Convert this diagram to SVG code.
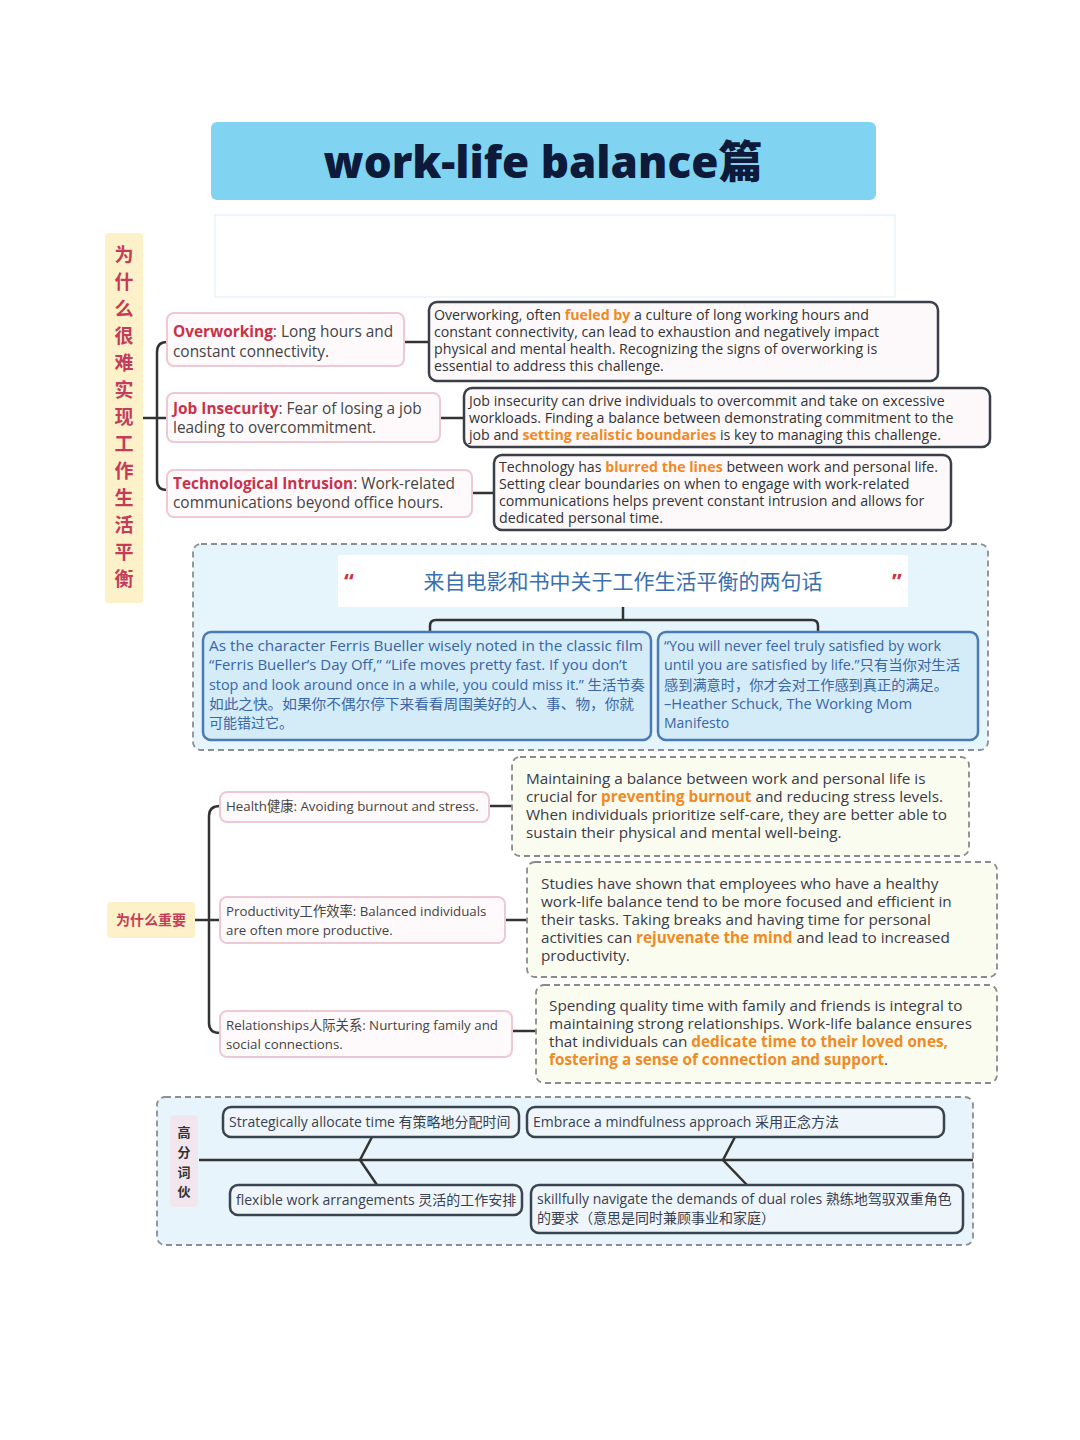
<svg xmlns="http://www.w3.org/2000/svg" width="1080" height="1440" viewBox="0 0 1080 1440">
<defs>
<style>
text{font-family:"Open Sans","Noto Sans","Noto Sans CJK SC",sans-serif;}
.title{font-size:44px;font-weight:800;fill:#0d1a3a;}
.vlab{font-size:19px;font-weight:700;fill:#c43c5a;font-family:"Noto Sans CJK SC",sans-serif;}
.node{fill:#fefafb;stroke:#ecc9d3;stroke-width:2;}
.nt{font-size:15.4px;fill:#444;}
.red{fill:#c8324a;font-weight:700;}
.det{fill:#fdf9fb;stroke:#3b3f4a;stroke-width:2.5;}
.dt{font-size:14.2px;fill:#333;}
.hl{fill:#f08a24;font-weight:700;}
.conn{fill:none;stroke:#333;stroke-width:2.5;}
.qbox{fill:#d4ebf8;stroke:#4a7ab5;stroke-width:2.5;}
.qt{font-size:14px;fill:#3a66a6;}
.ydet{fill:#fbfcf0;stroke:#8a8a8a;stroke-width:1.8;stroke-dasharray:6 4;}
.yt{font-size:15.3px;fill:#3a3a48;}
.n3t{font-size:13.3px;fill:#444;}
.bbox{fill:#eef6fb;stroke:#3a4450;stroke-width:2.5;}
.bt{font-size:14px;fill:#3a4050;}
</style>
</defs>
<rect width="1080" height="1440" fill="#ffffff"/>

<g id="title">
<rect x="211" y="122" width="665" height="78" rx="6" fill="#80d4f2"/>
<text class="title" x="543" y="178" text-anchor="middle">work-life balance篇</text>
</g>
<rect x="215" y="215" width="680" height="82" fill="#ffffff" stroke="#e6f3fa" stroke-width="1.5"/>

<g id="label-why-hard">
<rect x="105" y="233" width="38" height="370" rx="3" fill="#fcf1c8"/>
<text class="vlab" text-anchor="middle">
<tspan x="124" y="262">为</tspan><tspan x="124" y="289">什</tspan><tspan x="124" y="316">么</tspan><tspan x="124" y="343">很</tspan><tspan x="124" y="370">难</tspan><tspan x="124" y="397">实</tspan><tspan x="124" y="424">现</tspan><tspan x="124" y="451">工</tspan><tspan x="124" y="478">作</tspan><tspan x="124" y="505">生</tspan><tspan x="124" y="532">活</tspan><tspan x="124" y="559">平</tspan><tspan x="124" y="586">衡</tspan>
</text>
</g>

<g id="quotes-section">
<rect x="193" y="544" width="795" height="206" rx="8" fill="#e6f4fc" stroke="#8a8f96" stroke-width="1.8" stroke-dasharray="6 4"/>
<rect x="338" y="555" width="570" height="52" fill="#ffffff"/>
<text x="349" y="589" font-size="22" font-weight="700" fill="#d0323f" text-anchor="middle">“</text>
<text x="897" y="589" font-size="22" font-weight="700" fill="#d0323f" text-anchor="middle">”</text>
<text x="623" y="589" font-size="21" fill="#3a6fb0" text-anchor="middle" style="font-family:'Noto Sans CJK SC',sans-serif;">来自电影和书中关于工作生活平衡的两句话</text>
</g>

<g id="collocations-section">
<rect x="157" y="1097" width="816" height="148" rx="8" fill="#e8f4fb" stroke="#8a8f96" stroke-width="1.8" stroke-dasharray="6 4"/>
<rect x="170" y="1115" width="28" height="92" rx="4" fill="#f1e6ee"/>
<text font-size="13" font-weight="700" fill="#333" text-anchor="middle" style="font-family:'Noto Sans CJK SC',sans-serif;">
<tspan x="184" y="1137">高</tspan><tspan x="184" y="1157">分</tspan><tspan x="184" y="1177">词</tspan><tspan x="184" y="1196">伙</tspan>
</text>
</g>

<g id="connectors">
<path class="conn" d="M167 342 Q157 342 157 352 L157 480 Q157 490 167 490"/>
<path class="conn" d="M143 418 L167 418"/>
<path class="conn" d="M404 342 L430 342"/>
<path class="conn" d="M440 418 L465 418"/>
<path class="conn" d="M472 493 L495 493"/>
<path class="conn" d="M623 607 L623 620"/>
<path class="conn" d="M430 632 L430 626 Q430 620 436 620 L812 620 Q818 620 818 626 L818 632"/>
<path class="conn" d="M195 920 L220 920"/>
<path class="conn" d="M220 806 Q209 806 209 816 L209 1023 Q209 1033 220 1033"/>
<path class="conn" d="M489 806 L513 806"/>
<path class="conn" d="M505 920 L528 920"/>
<path class="conn" d="M512 1031 L537 1031"/>
<path class="conn" d="M199 1160 L973 1160"/>
<path class="conn" d="M372 1137 L360 1160 L377 1185"/>
<path class="conn" d="M735 1137 L723 1160 L747 1185"/>
</g>

<g id="node-overworking">
<rect class="node" x="167" y="313" width="237" height="53" rx="7"/>
<text class="nt" x="173" y="337"><tspan class="red">Overworking</tspan>: Long hours and</text>
<text class="nt" x="173" y="357">constant connectivity.</text>
</g>
<g id="node-job">
<rect class="node" x="167" y="393" width="273" height="49" rx="7"/>
<text class="nt" x="173" y="414"><tspan class="red">Job Insecurity</tspan>: Fear of losing a job</text>
<text class="nt" x="173" y="433">leading to overcommitment.</text>
</g>
<g id="node-tech">
<rect class="node" x="167" y="470" width="305" height="47" rx="7"/>
<text class="nt" x="173" y="489"><tspan class="red">Technological Intrusion</tspan>: Work-related</text>
<text class="nt" x="173" y="508">communications beyond office hours.</text>
</g>

<g id="detail-overworking">
<rect class="det" x="429" y="302" width="509" height="79" rx="8"/>
<text class="dt" x="434" y="320">Overworking, often <tspan class="hl">fueled by</tspan> a culture of long working hours and</text>
<text class="dt" x="434" y="337">constant connectivity, can lead to exhaustion and negatively impact</text>
<text class="dt" x="434" y="354">physical and mental health. Recognizing the signs of overworking is</text>
<text class="dt" x="434" y="371">essential to address this challenge.</text>
</g>
<g id="detail-job">
<rect class="det" x="464" y="388" width="526" height="59" rx="8"/>
<text class="dt" x="469" y="406">Job insecurity can drive individuals to overcommit and take on excessive</text>
<text class="dt" x="469" y="423">workloads. Finding a balance between demonstrating commitment to the</text>
<text class="dt" x="469" y="440">job and <tspan class="hl">setting realistic boundaries</tspan> is key to managing this challenge.</text>
</g>
<g id="detail-tech">
<rect class="det" x="494" y="455" width="457" height="75" rx="8"/>
<text class="dt" x="499" y="472">Technology has <tspan class="hl">blurred the lines</tspan> between work and personal life.</text>
<text class="dt" x="499" y="489">Setting clear boundaries on when to engage with work-related</text>
<text class="dt" x="499" y="506">communications helps prevent constant intrusion and allows for</text>
<text class="dt" x="499" y="523">dedicated personal time.</text>
</g>

<g id="quote-1">
<rect class="qbox" x="203" y="632" width="448" height="108" rx="8"/>
<text class="qt" x="209" y="651" textLength="434" lengthAdjust="spacingAndGlyphs">As the character Ferris Bueller wisely noted in the classic film</text>
<text class="qt" x="209" y="670" textLength="418" lengthAdjust="spacingAndGlyphs">“Ferris Bueller’s Day Off,” “Life moves pretty fast. If you don’t</text>
<text class="qt" x="209" y="690" textLength="436" lengthAdjust="spacingAndGlyphs">stop and look around once in a while, you could miss it.” 生活节奏</text>
<text class="qt" x="209" y="709" textLength="425" lengthAdjust="spacingAndGlyphs">如此之快。如果你不偶尔停下来看看周围美好的人、事、物，你就</text>
<text class="qt" x="209" y="728">可能错过它。</text>
</g>
<g id="quote-2">
<rect class="qbox" x="658" y="632" width="320" height="108" rx="8"/>
<text class="qt" x="664" y="651" textLength="277" lengthAdjust="spacingAndGlyphs">“You will never feel truly satisfied by work</text>
<text class="qt" x="664" y="670" textLength="296" lengthAdjust="spacingAndGlyphs">until you are satisfied by life.”只有当你对生活</text>
<text class="qt" x="664" y="690" textLength="284" lengthAdjust="spacingAndGlyphs">感到满意时，你才会对工作感到真正的满足。</text>
<text class="qt" x="664" y="709" textLength="248" lengthAdjust="spacingAndGlyphs">–Heather Schuck, The Working Mom</text>
<text class="qt" x="664" y="728">Manifesto</text>
</g>

<g id="label-why-important">
<rect x="107" y="902" width="88" height="36" rx="3" fill="#fcf1c8"/>
<text x="151" y="925" font-size="14" font-weight="700" fill="#c43c5a" text-anchor="middle" style="font-family:'Noto Sans CJK SC',sans-serif;">为什么重要</text>
</g>

<g id="node-health">
<rect class="node" x="220" y="792" width="269" height="30" rx="7"/>
<text class="n3t" x="226" y="811">Health健康: Avoiding burnout and stress.</text>
</g>
<g id="node-productivity">
<rect class="node" x="220" y="897" width="285" height="46" rx="7"/>
<text class="n3t" x="226" y="916">Productivity工作效率: Balanced individuals</text>
<text class="n3t" x="226" y="935">are often more productive.</text>
</g>
<g id="node-relationships">
<rect class="node" x="220" y="1011" width="292" height="46" rx="7"/>
<text class="n3t" x="226" y="1030">Relationships人际关系: Nurturing family and</text>
<text class="n3t" x="226" y="1049">social connections.</text>
</g>

<g id="detail-health">
<rect class="ydet" x="512" y="757" width="457" height="99" rx="8"/>
<text class="yt" x="526" y="784">Maintaining a balance between work and personal life is</text>
<text class="yt" x="526" y="802">crucial for <tspan class="hl">preventing burnout</tspan> and reducing stress levels.</text>
<text class="yt" x="526" y="820">When individuals prioritize self-care, they are better able to</text>
<text class="yt" x="526" y="838">sustain their physical and mental well-being.</text>
</g>
<g id="detail-productivity">
<rect class="ydet" x="527" y="862" width="470" height="115" rx="8"/>
<text class="yt" x="541" y="889">Studies have shown that employees who have a healthy</text>
<text class="yt" x="541" y="907">work-life balance tend to be more focused and efficient in</text>
<text class="yt" x="541" y="925">their tasks. Taking breaks and having time for personal</text>
<text class="yt" x="541" y="943">activities can <tspan class="hl">rejuvenate the mind</tspan> and lead to increased</text>
<text class="yt" x="541" y="961">productivity.</text>
</g>
<g id="detail-relationships">
<rect class="ydet" x="536" y="985" width="461" height="98" rx="8"/>
<text class="yt" x="549" y="1011">Spending quality time with family and friends is integral to</text>
<text class="yt" x="549" y="1029">maintaining strong relationships. Work-life balance ensures</text>
<text class="yt" x="549" y="1047">that individuals can <tspan class="hl">dedicate time to their loved ones,</tspan></text>
<text class="yt" x="549" y="1065"><tspan class="hl">fostering a sense of connection and support</tspan>.</text>
</g>

<g id="colloc-1">
<rect class="bbox" x="223" y="1107" width="296" height="30" rx="8"/>
<text class="bt" x="229" y="1127">Strategically allocate time 有策略地分配时间</text>
</g>
<g id="colloc-2">
<rect class="bbox" x="527" y="1107" width="417" height="30" rx="8"/>
<text class="bt" x="533" y="1127">Embrace a mindfulness approach 采用正念方法</text>
</g>
<g id="colloc-3">
<rect class="bbox" x="230" y="1185" width="292" height="30" rx="8"/>
<text class="bt" x="236" y="1205">flexible work arrangements 灵活的工作安排</text>
</g>
<g id="colloc-4">
<rect class="bbox" x="531" y="1185" width="432" height="48" rx="8"/>
<text class="bt" x="537" y="1204">skillfully navigate the demands of dual roles 熟练地驾驭双重角色</text>
<text class="bt" x="537" y="1223">的要求（意思是同时兼顾事业和家庭）</text>
</g>
</svg>
